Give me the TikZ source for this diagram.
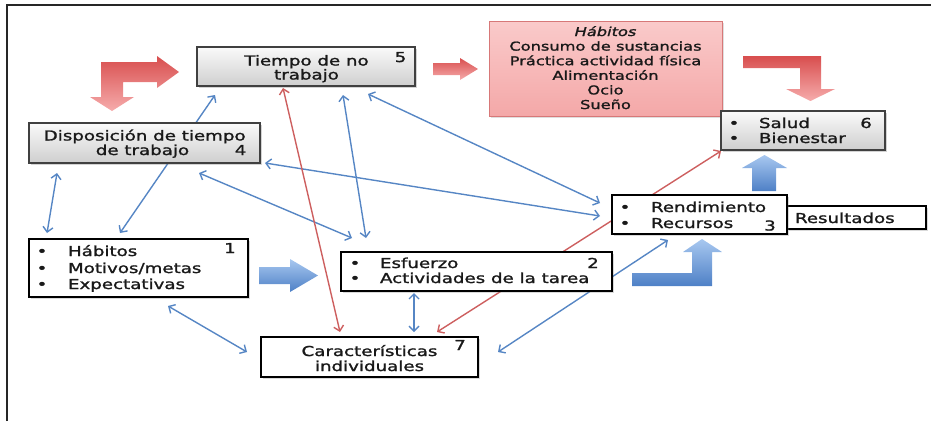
\documentclass[tikz,border=0pt]{standalone}
\usepackage{fontspec}
\setmainfont[FakeStretch=1.33,FakeBold=1.4]{DejaVu Sans}
\usetikzlibrary{arrows.meta,calc,shadows}
\definecolor{lblue}{RGB}{86,134,196}
\definecolor{lred}{RGB}{205,95,95}
\definecolor{bluetop}{RGB}{168,200,240}
\definecolor{bluebot}{RGB}{78,128,198}
\definecolor{redtop}{RGB}{216,78,78}
\definecolor{redbot}{RGB}{246,172,172}
\definecolor{pinktop}{RGB}{250,202,202}
\definecolor{pinkbot}{RGB}{244,168,168}
\definecolor{pinkline}{RGB}{215,120,120}
\begin{document}
\begin{tikzpicture}[x=1pt,y=-1pt,
  boxbase/.style={rectangle,inner sep=0pt,outer sep=0pt},
  whitebox/.style={boxbase,draw=black,line width=1.6pt,fill=white,
    drop shadow={shadow xshift=1.5pt,shadow yshift=-1.5pt,opacity=.3}},
  graybox/.style={boxbase,draw=black!75,line width=1.2pt,top color=gray!4,bottom color=gray!38,
    drop shadow={shadow xshift=2pt,shadow yshift=-2pt,opacity=.35}},
  pinkbox/.style={boxbase,draw=pinkline,line width=1pt,top color=pinktop,bottom color=pinkbot,
    drop shadow={shadow xshift=2pt,shadow yshift=-2pt,opacity=.25}},
  txt/.style={inner sep=0pt,outer sep=0pt,text=black!90,font=\fontsize{13.7}{15}\selectfont},
  ptxt/.style={inner sep=0pt,outer sep=0pt,text=black!90,font=\fontsize{12.2}{14}\selectfont,anchor=base},
  bconn/.style={draw=lblue,line width=1.4pt,<->,>={Straight Barb[length=5pt,width=10pt]}},
  rconn/.style={draw=lred,line width=1.4pt,<->,>={Straight Barb[length=5pt,width=10pt]}},
  redblock/.style={top color=redtop,bottom color=redbot,draw=none},
  blueblock/.style={top color=bluetop,bottom color=bluebot,draw=none}]
\useasboundingbox (0,0) rectangle (931,421);
% frame
\draw[line width=1.5pt,black!85] (7,421) -- (7,5) -- (931,5);

% boxes (coordinates only for connectors; drawn later)
\path
  (306,66.5)   node[boxbase,minimum width=218pt,minimum height=39pt] (b5) {}
  (144.5,143)  node[boxbase,minimum width=231pt,minimum height=40pt] (b4) {}
  (605.5,68.5) node[boxbase,minimum width=233pt,minimum height=95pt] (hab) {}
  (803,130.5)  node[boxbase,minimum width=164pt,minimum height=39pt] (b6) {}
  (699.5,214.5) node[boxbase,minimum width=175pt,minimum height=39pt] (b3) {}
  (856.5,217.5) node[boxbase,minimum width=139pt,minimum height=23pt] (res) {}
  (476.5,271.5) node[boxbase,minimum width=271pt,minimum height=39pt] (b2) {}
  (138.5,268)  node[boxbase,minimum width=219pt,minimum height=58pt] (b1) {}
  (369.5,357)  node[boxbase,minimum width=217pt,minimum height=40pt] (b7) {};

% thin connectors
\draw[bconn] ($(b4.south west)+(28,10)$) -- ($(b1.north west)+(18,-6)$);
\draw[bconn] ($(b1.north west)+(91,-6)$) -- ($(b5.south west)+(18,9)$);
\draw[bconn] ($(b4.south west)+(170,10)$) -- ($(b2.north west)+(11,-14)$);
\draw[bconn] ($(b5.south west)+(146,9)$) -- ($(b2.north west)+(25,-14)$);
\draw[bconn] ($(b5.south west)+(171,8)$) -- ($(b3.north west)+(-12,8)$);
\draw[bconn] ($(b4.south east)+(5,0)$) -- ($(b3.north west)+(-12,21)$);
\draw[bconn] ($(b2.south west)+(73,2)$) -- ($(b7.north west)+(153,-5)$);
\draw[bconn] ($(b1.south west)+(139,9)$) -- ($(b7.north west)+(-14,15)$);
\draw[bconn] ($(b3.south west)+(56,6)$) -- ($(b7.north east)+(20,15)$);
\draw[rconn] ($(b7.north west)+(79,-5)$) -- ($(b5.south west)+(86,2)$);
\draw[rconn] ($(b7.north west)+(176,-5)$) -- ($(b6.south west)+(0,1)$);

% block arrows
\path[redblock] (101,62) -- (157,62) -- (157,56) -- (179,72) -- (157,88) -- (157,82) -- (123,82)
  -- (123,97) -- (134,97) -- (112,111) -- (90,97) -- (101,97) -- cycle;
\path[redblock] (433,63) -- (460,63) -- (460,58) -- (478,69) -- (460,80) -- (460,75) -- (433,75) -- cycle;
\path[redblock] (743,56) -- (821,56) -- (821,89) -- (835,89) -- (810.5,101) -- (786,89) -- (800,89)
  -- (800,68) -- (743,68) -- cycle;
\path[blueblock] (259,267) -- (290,267) -- (290,259) -- (318,275.5) -- (290,292) -- (290,284) -- (259,284) -- cycle;
\path[blueblock] (752,191) -- (752,168) -- (742,168) -- (764.5,155) -- (787,168) -- (776,168) -- (776,191) -- cycle;
\path[blueblock] (632,273) -- (692,273) -- (692,252) -- (683,252) -- (702,239) -- (722,252) -- (712,252)
  -- (712,286) -- (632,286) -- cycle;

% visible boxes
\node[graybox,minimum width=218pt,minimum height=39pt] (b5v) at (b5) {};
\node[graybox,minimum width=231pt,minimum height=40pt] (b4v) at (b4) {};
\node[pinkbox,minimum width=233pt,minimum height=95pt] (habv) at (hab) {};
\node[graybox,minimum width=164pt,minimum height=39pt] (b6v) at (b6) {};
\node[whitebox,minimum width=139pt,minimum height=23pt] (resv) at (res) {};
\node[whitebox,minimum width=175pt,minimum height=39pt] (b3v) at (b3) {};
\node[whitebox,minimum width=271pt,minimum height=39pt] (b2v) at (b2) {};
\node[whitebox,minimum width=219pt,minimum height=58pt] (b1v) at (b1) {};
\node[whitebox,minimum width=217pt,minimum height=40pt] (b7v) at (b7) {};

% texts: box 5
\node[txt,anchor=base] (t5a) at (306.5,65.5) {Tiempo de no};
\node[txt,anchor=base] (t5b) at (306.5,79.5) {trabajo};
\node[txt,anchor=base] (t5n) at (400.5,62) {5};
% box 4
\node[txt,anchor=base] (t4a) at (144.7,140.5) {Disposición de tiempo};
\node[txt,anchor=base] (t4b) at (142.5,155) {de trabajo};
\node[txt,anchor=base] (t4n) at (240.5,155) {4};
% pink box
\node[ptxt] (p1) at (605.5,36) {\itshape Hábitos};
\node[ptxt] (p2) at (605.5,50.6) {Consumo de sustancias};
\node[ptxt] (p3) at (605.5,65.2) {Práctica actividad física};
\node[ptxt] (p4) at (605.5,79.8) {Alimentación};
\node[ptxt] (p5) at (605.5,94.4) {Ocio};
\node[ptxt] (p6) at (605.5,109) {Sueño};
% box 6
\node[txt,anchor=base] (t6b1) at (734,128) {•};
\node[txt,anchor=base] (t6b2) at (734,143) {•};
\node[txt,anchor=base west] (t6a) at (759,128) {Salud};
\node[txt,anchor=base west] (t6b) at (759,143) {Bienestar};
\node[txt,anchor=base] (t6n) at (866,128) {6};
% box 3
\node[txt,anchor=base] (t3b1) at (625,212) {•};
\node[txt,anchor=base] (t3b2) at (625,228) {•};
\node[txt,anchor=base west] (t3a) at (651,212) {Rendimiento};
\node[txt,anchor=base west] (t3b) at (651,228) {Recursos};
\node[txt,anchor=base] (t3n) at (770,230.5) {3};
% resultados
\node[txt,anchor=base west] (tres) at (795,223) {Resultados};
% box 2
\node[txt,anchor=base] (t2b1) at (355,268) {•};
\node[txt,anchor=base] (t2b2) at (355,283) {•};
\node[txt,anchor=base west] (t2a) at (380,268) {Esfuerzo};
\node[txt,anchor=base west] (t2b) at (380,283) {Actividades de la tarea};
\node[txt,anchor=base] (t2n) at (593,268) {2};
% box 1
\node[txt,anchor=base] (t1b1) at (42,256) {•};
\node[txt,anchor=base] (t1b2) at (42,273) {•};
\node[txt,anchor=base] (t1b3) at (42,289) {•};
\node[txt,anchor=base west] (t1a) at (68,256) {Hábitos};
\node[txt,anchor=base west] (t1b) at (68,273) {Motivos/metas};
\node[txt,anchor=base west] (t1c) at (68,289) {Expectativas};
\node[txt,anchor=base] (t1n) at (230,253) {1};
% box 7
\node[txt,anchor=base] (t7a) at (369.5,356) {Características};
\node[txt,anchor=base] (t7b) at (369.5,371) {individuales};
\node[txt,anchor=base] (t7n) at (460,350) {7};
\end{tikzpicture}
\end{document}
